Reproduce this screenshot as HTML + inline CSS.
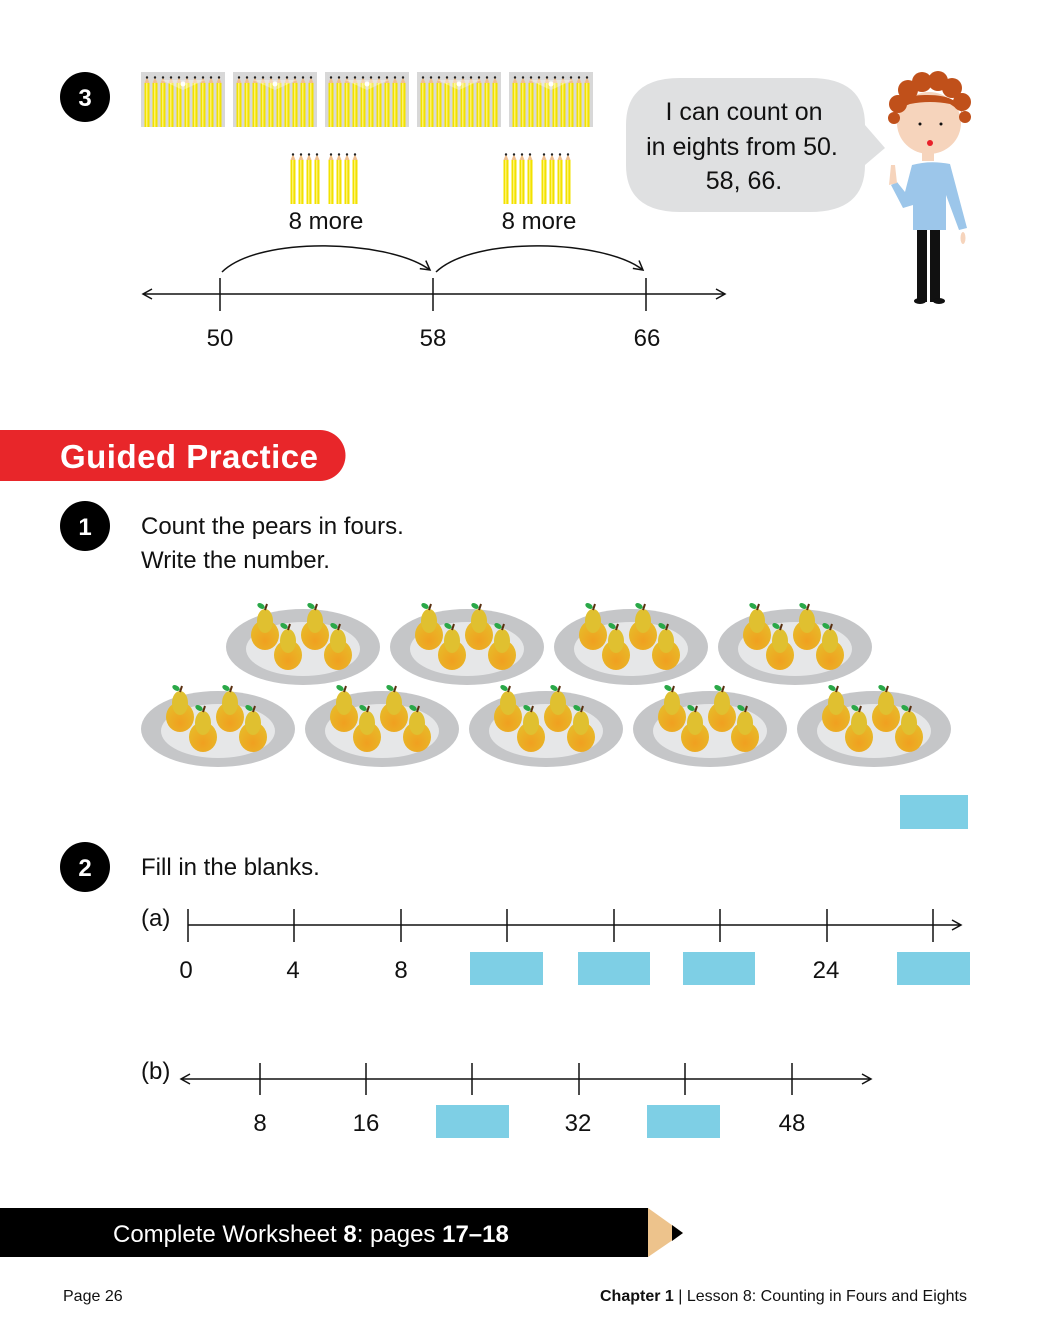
<!DOCTYPE html>
<html><head><meta charset="utf-8"><style>
html,body{margin:0;padding:0;background:#fff;}
svg{display:block;font-family:"Liberation Sans",sans-serif;}
</style></head><body>
<svg width="1040" height="1330" viewBox="0 0 1040 1330" xmlns="http://www.w3.org/2000/svg">
<defs>
  <g id="pen"><rect x="-2.5" y="8" width="5" height="44" fill="#f2e200"/><rect x="-1" y="8" width="1.5" height="44" fill="#fff36a"/><polygon points="-2.5,8 2.5,8 0,2" fill="#f0c090"/><circle cx="0" cy="2.5" r="1.2" fill="#222"/></g>
  <g id="box">
    <rect x="0" y="0" width="84" height="55" fill="#d8d8d8"/>
    <g transform="translate(0,-2)">
      <use href="#pen" x="6" y="5"/><use href="#pen" x="14" y="5"/><use href="#pen" x="22" y="5"/><use href="#pen" x="30" y="5"/><use href="#pen" x="38" y="5"/><use href="#pen" x="46" y="5"/><use href="#pen" x="54" y="5"/><use href="#pen" x="62" y="5"/><use href="#pen" x="70" y="5"/><use href="#pen" x="78" y="5"/>
    </g>
    <polygon points="20,8 64,8 42,18" fill="#fff" opacity="0.35"/>
    <circle cx="42" cy="12" r="2.5" fill="#fff"/>
  </g>
  <g id="pgrp"><use href="#pen" x="3" y="0"/><use href="#pen" x="11" y="0"/><use href="#pen" x="19" y="0"/><use href="#pen" x="27" y="0"/><use href="#pen" x="41" y="0"/><use href="#pen" x="49" y="0"/><use href="#pen" x="57" y="0"/><use href="#pen" x="65" y="0"/></g>
  <radialGradient id="pg" cx="0.5" cy="0.7" r="0.6"><stop offset="0" stop-color="#f0a020"/><stop offset="1" stop-color="#e8b828"/></radialGradient>
  <g id="pear">
    <ellipse cx="0" cy="8" rx="14" ry="15" fill="url(#pg)"/>
    <ellipse cx="0" cy="-6" rx="8" ry="12" fill="#e0c030"/>
    <line x1="0" y1="-17" x2="2" y2="-23" stroke="#5a3010" stroke-width="2"/>
    <ellipse cx="-4" cy="-21" rx="4" ry="2.5" fill="#2aa848" transform="rotate(30 -4 -21)"/>
  </g>
  <g id="plate">
    <ellipse cx="0" cy="0" rx="77" ry="38" fill="#c5c6c8"/>
    <ellipse cx="0" cy="2" rx="57" ry="27" fill="#e6e7e8"/>
    <use href="#pear" x="-38" y="-20"/><use href="#pear" x="12" y="-20"/>
    <use href="#pear" x="-15" y="0"/><use href="#pear" x="35" y="0"/>
  </g>
  <marker id="ah" markerWidth="12" markerHeight="12" refX="10" refY="6" orient="auto" markerUnits="userSpaceOnUse"><path d="M1,1 L10,6 L1,11" fill="none" stroke="#111" stroke-width="1.5"/></marker>
  <marker id="ahs" markerWidth="12" markerHeight="12" refX="10" refY="6" orient="auto-start-reverse" markerUnits="userSpaceOnUse"><path d="M1,1 L10,6 L1,11" fill="none" stroke="#111" stroke-width="1.5"/></marker>
</defs>

<circle cx="85" cy="97" r="25" fill="#000"/>
<text x="85" y="106" font-size="24" font-weight="bold" fill="#fff" text-anchor="middle">3</text>
<use href="#box" x="141" y="72"/><use href="#box" x="233" y="72"/><use href="#box" x="325" y="72"/><use href="#box" x="417" y="72"/><use href="#box" x="509" y="72"/>
<use href="#pgrp" x="290" y="152"/><use href="#pgrp" x="503" y="152"/>
<text x="326" y="229" font-size="24" text-anchor="middle" fill="#111">8 more</text>
<text x="539" y="229" font-size="24" text-anchor="middle" fill="#111">8 more</text>
<path d="M222,272 C260,235 390,240 430,270" fill="none" stroke="#111" stroke-width="1.5" marker-end="url(#ah)"/>
<path d="M436,272 C475,235 605,240 643,270" fill="none" stroke="#111" stroke-width="1.5" marker-end="url(#ah)"/>
<line x1="143" y1="294" x2="725" y2="294" stroke="#111" stroke-width="1.5" marker-start="url(#ahs)" marker-end="url(#ah)"/>
<g stroke="#111" stroke-width="1.5"><line x1="220" y1="278" x2="220" y2="311"/><line x1="433" y1="278" x2="433" y2="311"/><line x1="646" y1="278" x2="646" y2="311"/></g>
<g font-size="24" text-anchor="middle" fill="#111"><text x="220" y="346">50</text><text x="433" y="346">58</text><text x="647" y="346">66</text></g>

<path d="M680,78 L810,78 Q865,78 865,125 L885,148 L865,165 Q865,212 810,212 L680,212 Q626,212 626,165 L626,125 Q626,78 680,78 Z" fill="#dfe0e1"/>
<g font-size="25" text-anchor="middle" fill="#111"><text x="744" y="120">I can count on</text><text x="742" y="155">in eights from 50.</text><text x="744" y="189">58, 66.</text></g>

<g>
  <rect x="917" y="226" width="10" height="76" fill="#111"/><rect x="930" y="226" width="10" height="76" fill="#111"/>
  <ellipse cx="920" cy="301" rx="6" ry="3" fill="#111"/><ellipse cx="939" cy="301" rx="6" ry="3" fill="#111"/>
  <path d="M912,165 Q930,160 950,164 L967,228 L959,230 L946,195 L946,230 L913,230 L913,205 L903,208 L891,185 L897,182 L905,192 Z" fill="#9cc6ea"/>
  <ellipse cx="963" cy="238" rx="2.5" ry="6" fill="#f6d4bc"/>
  <path d="M889,185 L891,165 L895,165 L897,183 Z" fill="#f6d4bc"/>
  <rect x="922" y="147" width="12" height="14" fill="#f6d4bc"/>
  <ellipse cx="929" cy="123" rx="32" ry="31" fill="#f6d4bc"/>
  <g fill="#c0501a">
    <circle cx="898" cy="104" r="9"/><circle cx="908" cy="90" r="10"/><circle cx="922" cy="82" r="10"/><circle cx="938" cy="81" r="10"/><circle cx="952" cy="88" r="10"/><circle cx="962" cy="102" r="9"/><circle cx="894" cy="118" r="6"/><circle cx="965" cy="117" r="6"/>
    <path d="M895,110 Q900,94 928,95 Q958,95 962,112 L950,104 Q930,100 910,104 Z"/>
  </g>
  <circle cx="920" cy="124" r="1.5" fill="#111"/><circle cx="941" cy="124" r="1.5" fill="#111"/>
  <circle cx="930" cy="143" r="3" fill="#e8202a"/>
</g>

<path d="M0,430 L320,430 A25.5,25.5 0 0 1 320,481 L0,481 Z" fill="#e8262a"/>
<text x="60" y="468" font-size="33" font-weight="bold" fill="#fff" textLength="258">Guided Practice</text>

<circle cx="85" cy="526" r="25" fill="#000"/>
<text x="85" y="535" font-size="24" font-weight="bold" fill="#fff" text-anchor="middle">1</text>
<text x="141" y="534" font-size="24" fill="#111">Count the pears in fours.</text>
<text x="141" y="568" font-size="24" fill="#111">Write the number.</text>

<use href="#plate" x="303" y="647"/><use href="#plate" x="467" y="647"/><use href="#plate" x="631" y="647"/><use href="#plate" x="795" y="647"/>
<use href="#plate" x="218" y="729"/><use href="#plate" x="382" y="729"/><use href="#plate" x="546" y="729"/><use href="#plate" x="710" y="729"/><use href="#plate" x="874" y="729"/>

<rect x="900" y="795" width="68" height="34" fill="#7ecfe5"/>

<circle cx="85" cy="867" r="25" fill="#000"/>
<text x="85" y="876" font-size="24" font-weight="bold" fill="#fff" text-anchor="middle">2</text>
<text x="141" y="875" font-size="24" fill="#111">Fill in the blanks.</text>

<text x="141" y="926" font-size="24" fill="#111">(a)</text>
<line x1="188" y1="925" x2="961" y2="925" stroke="#111" stroke-width="1.5" marker-end="url(#ah)"/>
<g stroke="#111" stroke-width="1.5"><line x1="188" y1="909" x2="188" y2="942"/><line x1="294" y1="909" x2="294" y2="942"/><line x1="401" y1="909" x2="401" y2="942"/><line x1="507" y1="909" x2="507" y2="942"/><line x1="614" y1="909" x2="614" y2="942"/><line x1="720" y1="909" x2="720" y2="942"/><line x1="827" y1="909" x2="827" y2="942"/><line x1="933" y1="909" x2="933" y2="942"/></g>
<g font-size="24" text-anchor="middle" fill="#111"><text x="186" y="978">0</text><text x="293" y="978">4</text><text x="401" y="978">8</text><text x="826" y="978">24</text></g>
<g fill="#7ecfe5"><rect x="470" y="952" width="73" height="33"/><rect x="578" y="952" width="72" height="33"/><rect x="683" y="952" width="72" height="33"/><rect x="897" y="952" width="73" height="33"/></g>

<text x="141" y="1079" font-size="24" fill="#111">(b)</text>
<line x1="181" y1="1079" x2="871" y2="1079" stroke="#111" stroke-width="1.5" marker-start="url(#ahs)" marker-end="url(#ah)"/>
<g stroke="#111" stroke-width="1.5"><line x1="260" y1="1063" x2="260" y2="1095"/><line x1="366" y1="1063" x2="366" y2="1095"/><line x1="472" y1="1063" x2="472" y2="1095"/><line x1="579" y1="1063" x2="579" y2="1095"/><line x1="685" y1="1063" x2="685" y2="1095"/><line x1="792" y1="1063" x2="792" y2="1095"/></g>
<g font-size="24" text-anchor="middle" fill="#111"><text x="260" y="1131">8</text><text x="366" y="1131">16</text><text x="578" y="1131">32</text><text x="792" y="1131">48</text></g>
<g fill="#7ecfe5"><rect x="436" y="1105" width="73" height="33"/><rect x="647" y="1105" width="73" height="33"/></g>

<rect x="0" y="1208" width="648" height="49" fill="#000"/>
<polygon points="648,1208 683,1233 648,1257" fill="#edc38c"/>
<polygon points="672,1225 683,1233 672,1241" fill="#000"/>
<text x="113" y="1242" font-size="24" fill="#fff">Complete Worksheet <tspan font-weight="bold">8</tspan>: pages <tspan font-weight="bold">17–18</tspan></text>

<text x="63" y="1301" font-size="16" fill="#111">Page 26</text>
<text x="967" y="1301" font-size="16" fill="#111" text-anchor="end"><tspan font-weight="bold">Chapter 1</tspan> | Lesson 8: Counting in Fours and Eights</text>
</svg>
</body></html>
